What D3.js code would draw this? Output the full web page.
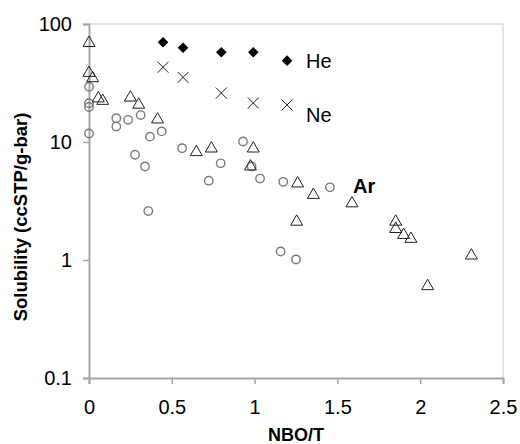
<!DOCTYPE html>
<html>
<head>
<meta charset="utf-8">
<script src="https://cdn.jsdelivr.net/npm/d3@7"></script>
<style>
  html, body { margin: 0; padding: 0; background: #fff; }
  svg { display: block; font-family: "Liberation Sans", Arial, sans-serif; }
</style>
</head>
<body>
<svg id="chart" width="520" height="444"></svg>
<script>
// Noble gas solubility vs. NBO/T
const heNBO = [0.447, 0.568, 0.799, 0.992, 1.196];
const heSol = [70, 63, 57.6, 57.6, 48.9];

const neNBO = [0.447, 0.568, 0.799, 0.992, 1.196];
const neSol = [43, 35.3, 26, 21.4, 20.6];

// Ar, first data set (triangles)
const arTriNBO = [0, 0, 0.022, 0.056, 0.083, 0.25, 0.30, 0.414, 0.648, 0.739, 0.992, 0.975,
                  1.26, 1.355, 1.254, 1.588, 1.852, 1.852, 1.90, 1.944, 2.045, 2.309];
const arTriSol = [69, 38.5, 34.7, 23.4, 22.3, 23.8, 20.7, 15.5, 8.2, 8.8, 8.8, 6.2,
                  4.45, 3.56, 2.11, 3.02, 2.11, 1.83, 1.63, 1.51, 0.60, 1.09];

// Ar, second data set (circles)
const arCircNBO = [0, 0, 0, 0, 0.165, 0.165, 0.236, 0.312, 0.278, 0.338, 0.358, 0.368,
                   0.439, 0.562, 0.723, 0.795, 0.930, 0.982, 1.033, 1.157, 1.173, 1.25, 1.455];
const arCircSol = [29.4, 21.3, 19.8, 11.8, 15.9, 13.5, 15.4, 16.9, 7.8, 6.2, 2.6, 11.1,
                   12.3, 8.85, 4.7, 6.6, 10.1, 6.2, 4.9, 1.18, 4.6, 1.01, 4.13];

const xTicks = [0, 0.5, 1, 1.5, 2, 2.5];
const yTicks = [0.1, 1, 10, 100];

const svg = d3.select("#chart");
const L = 89, R = 503, T = 24, B = 378;

const x = d3.scaleLinear().domain([0, 2.5]).range([L, R]);
const y = d3.scaleLog().domain([0.1, 100]).range([B, T]);

const axisColor = "#a6a6a6";

// frame (top and right)
svg.append("path")
  .attr("d", `M${L},${T}H${R}V${B}`)
  .attr("fill", "none").attr("stroke", "#c8c8c8").attr("stroke-width", 1);

// x axis
const gx = svg.append("g").attr("transform", `translate(0,${B})`)
  .call(d3.axisBottom(x).tickValues(xTicks).tickFormat(d3.format("")).tickSizeOuter(0).tickSize(6).tickPadding(16));
gx.select(".domain").attr("stroke", axisColor).attr("stroke-width", 2);
gx.selectAll(".tick line").attr("stroke", axisColor).attr("stroke-width", 1.5);
gx.selectAll(".tick text").attr("fill", "#000").attr("font-size", 20)
  .attr("font-family", "Liberation Sans, Arial, sans-serif");

// y axis
const gy = svg.append("g").attr("transform", `translate(${L},0)`)
  .call(d3.axisLeft(y).tickValues(yTicks).tickFormat(d => d3.format("")(d)).tickSizeOuter(0).tickSize(6).tickPadding(11));
gy.select(".domain").attr("stroke", axisColor).attr("stroke-width", 2);
gy.selectAll(".tick line").attr("stroke", axisColor).attr("stroke-width", 1.5);
gy.selectAll(".tick text").attr("fill", "#000").attr("font-size", 20)
  .attr("font-family", "Liberation Sans, Arial, sans-serif");

// axis titles
svg.append("text")
  .attr("x", (L + R) / 2).attr("y", 441)
  .attr("text-anchor", "middle").attr("font-size", 18).attr("font-weight", "bold")
  .text("NBO/T");
svg.append("text")
  .attr("transform", `translate(27,${(T + B) / 2 + 16}) rotate(-90)`)
  .attr("text-anchor", "middle").attr("font-size", 18.5).attr("font-weight", "bold")
  .text("Solubility (ccSTP/g-bar)");

const zip = (a, b) => a.map((v, i) => [v, b[i]]);

// Ar circles
svg.append("g").selectAll("circle").data(zip(arCircNBO, arCircSol)).join("circle")
  .attr("cx", d => x(d[0])).attr("cy", d => y(d[1])).attr("r", 4.2)
  .attr("fill", "none").attr("stroke", "#7a7a7a").attr("stroke-width", 1.4);

// Ar triangles
const tri = d3.symbol(d3.symbolTriangle, 62);
svg.append("g").selectAll("path").data(zip(arTriNBO, arTriSol)).join("path")
  .attr("d", tri)
  .attr("transform", d => `translate(${x(d[0])},${y(d[1])})`)
  .attr("fill", "none").attr("stroke", "#222").attr("stroke-width", 1);

// Ne crosses
const cross = d3.symbol(d3.symbolX, 80);
svg.append("g").selectAll("path").data(zip(neNBO, neSol)).join("path")
  .attr("d", cross)
  .attr("transform", d => `translate(${x(d[0])},${y(d[1])})`)
  .attr("fill", "none").attr("stroke", "#222").attr("stroke-width", 1);

// He diamonds
const diamond = d3.symbol(d3.symbolSquare, 56);
svg.append("g").selectAll("path").data(zip(heNBO, heSol)).join("path")
  .attr("d", diamond)
  .attr("transform", d => `translate(${x(d[0])},${y(d[1])}) rotate(45)`)
  .attr("fill", "#000");

// series labels
svg.append("text").attr("x", 306).attr("y", 68).attr("font-size", 20).text("He");
svg.append("text").attr("x", 306).attr("y", 122).attr("font-size", 20).text("Ne");
svg.append("text").attr("x", 353).attr("y", 193).attr("font-size", 20).attr("font-weight", "bold").text("Ar");
</script>
</body>
</html>
